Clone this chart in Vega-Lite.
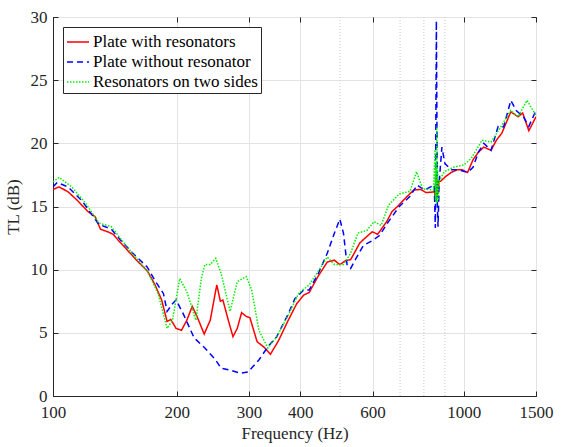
{
  "$schema": "https://vega.github.io/schema/vega-lite/v6.json",
  "width": 483,
  "height": 379,
  "autosize": "none",
  "padding": {"left": 53, "top": 17, "right": 26, "bottom": 51},
  "background": "white",
  "datasets": {
    "tl": [
      {"f":100,"TL":16.35,"s":"Plate with resonators"},{"f":103.5,"TL":16.55,"s":"Plate with resonators"},{"f":108.8,"TL":16.16,"s":"Plate with resonators"},{"f":114.5,"TL":15.5,"s":"Plate with resonators"},{"f":121.6,"TL":14.6,"s":"Plate with resonators"},{"f":126.6,"TL":14.2,"s":"Plate with resonators"},{"f":130.5,"TL":13.2,"s":"Plate with resonators"},{"f":135.9,"TL":13.0,"s":"Plate with resonators"},{"f":140.1,"TL":12.8,"s":"Plate with resonators"},{"f":144.4,"TL":12.3,"s":"Plate with resonators"},{"f":150.3,"TL":11.7,"s":"Plate with resonators"},{"f":159.7,"TL":10.75,"s":"Plate with resonators"},{"f":169.7,"TL":9.9,"s":"Plate with resonators"},{"f":176.6,"TL":8.9,"s":"Plate with resonators"},{"f":183.9,"TL":7.6,"s":"Plate with resonators"},{"f":189.6,"TL":5.9,"s":"Plate with resonators"},{"f":193.5,"TL":6.06,"s":"Plate with resonators"},{"f":199.4,"TL":5.35,"s":"Plate with resonators"},{"f":205.5,"TL":5.2,"s":"Plate with resonators"},{"f":211.8,"TL":6.0,"s":"Plate with resonators"},{"f":218.3,"TL":7.1,"s":"Plate with resonators"},{"f":224.2,"TL":6.3,"s":"Plate with resonators"},{"f":233.4,"TL":4.9,"s":"Plate with resonators"},{"f":241.5,"TL":6.0,"s":"Plate with resonators"},{"f":250.5,"TL":8.8,"s":"Plate with resonators"},{"f":255.6,"TL":7.5,"s":"Plate with resonators"},{"f":259.2,"TL":7.6,"s":"Plate with resonators"},{"f":267.2,"TL":6.0,"s":"Plate with resonators"},{"f":274.3,"TL":4.7,"s":"Plate with resonators"},{"f":281.0,"TL":5.35,"s":"Plate with resonators"},{"f":287.9,"TL":6.6,"s":"Plate with resonators"},{"f":295.5,"TL":6.3,"s":"Plate with resonators"},{"f":301.6,"TL":6.2,"s":"Plate with resonators"},{"f":314.0,"TL":4.3,"s":"Plate with resonators"},{"f":326.9,"TL":3.85,"s":"Plate with resonators"},{"f":338.3,"TL":3.3,"s":"Plate with resonators"},{"f":354.4,"TL":4.4,"s":"Plate with resonators"},{"f":372.7,"TL":5.9,"s":"Plate with resonators"},{"f":392.0,"TL":7.3,"s":"Plate with resonators"},{"f":408.2,"TL":8.0,"s":"Plate with resonators"},{"f":420.7,"TL":8.2,"s":"Plate with resonators"},{"f":442.5,"TL":9.5,"s":"Plate with resonators"},{"f":465.4,"TL":10.6,"s":"Plate with resonators"},{"f":484.5,"TL":10.75,"s":"Plate with resonators"},{"f":499.4,"TL":10.4,"s":"Plate with resonators"},{"f":514.8,"TL":10.7,"s":"Plate with resonators"},{"f":530.6,"TL":10.8,"s":"Plate with resonators"},{"f":541.4,"TL":11.3,"s":"Plate with resonators"},{"f":558.1,"TL":12.1,"s":"Plate with resonators"},{"f":575.2,"TL":12.5,"s":"Plate with resonators"},{"f":598.9,"TL":13.0,"s":"Plate with resonators"},{"f":617.3,"TL":12.8,"s":"Plate with resonators"},{"f":649.3,"TL":13.8,"s":"Plate with resonators"},{"f":669.2,"TL":14.6,"s":"Plate with resonators"},{"f":689.8,"TL":15.0,"s":"Plate with resonators"},{"f":718.2,"TL":15.6,"s":"Plate with resonators"},{"f":755.3,"TL":16.3,"s":"Plate with resonators"},{"f":786.4,"TL":16.35,"s":"Plate with resonators"},{"f":810.6,"TL":16.1,"s":"Plate with resonators"},{"f":850,"TL":16.16,"s":"Plate with resonators"},{"f":853,"TL":15.5,"s":"Plate with resonators"},{"f":855,"TL":17.3,"s":"Plate with resonators"},{"f":857,"TL":15.4,"s":"Plate with resonators"},{"f":859,"TL":17.6,"s":"Plate with resonators"},{"f":861,"TL":15.6,"s":"Plate with resonators"},{"f":863,"TL":17.2,"s":"Plate with resonators"},{"f":866,"TL":16.0,"s":"Plate with resonators"},{"f":870,"TL":17.0,"s":"Plate with resonators"},{"f":878.7,"TL":17.0,"s":"Plate with resonators"},{"f":905.7,"TL":17.4,"s":"Plate with resonators"},{"f":933.5,"TL":17.7,"s":"Plate with resonators"},{"f":962.2,"TL":17.9,"s":"Plate with resonators"},{"f":991.8,"TL":17.9,"s":"Plate with resonators"},{"f":1022.3,"TL":17.7,"s":"Plate with resonators"},{"f":1053.7,"TL":18.7,"s":"Plate with resonators"},{"f":1086.2,"TL":19.3,"s":"Plate with resonators"},{"f":1119.5,"TL":19.7,"s":"Plate with resonators"},{"f":1165.7,"TL":19.45,"s":"Plate with resonators"},{"f":1201.5,"TL":20.25,"s":"Plate with resonators"},{"f":1238.4,"TL":20.8,"s":"Plate with resonators"},{"f":1302.5,"TL":22.5,"s":"Plate with resonators"},{"f":1356.1,"TL":22.1,"s":"Plate with resonators"},{"f":1392.1,"TL":22.4,"s":"Plate with resonators"},{"f":1440.8,"TL":21.0,"s":"Plate with resonators"},{"f":1500,"TL":22.1,"s":"Plate with resonators"},

      {"f":100,"TL":16.55,"s":"Plate without resonator"},{"f":102.4,"TL":16.9,"s":"Plate without resonator"},{"f":108.8,"TL":16.55,"s":"Plate without resonator"},{"f":118.0,"TL":15.4,"s":"Plate without resonator"},{"f":129.2,"TL":13.6,"s":"Plate without resonator"},{"f":138.7,"TL":13.2,"s":"Plate without resonator"},{"f":147.3,"TL":12.2,"s":"Plate without resonator"},{"f":156.5,"TL":11.3,"s":"Plate without resonator"},{"f":169.7,"TL":10.2,"s":"Plate without resonator"},{"f":176.6,"TL":9.2,"s":"Plate without resonator"},{"f":185.8,"TL":8.1,"s":"Plate without resonator"},{"f":189.6,"TL":6.7,"s":"Plate without resonator"},{"f":195.4,"TL":7.3,"s":"Plate without resonator"},{"f":199.4,"TL":7.6,"s":"Plate without resonator"},{"f":207.6,"TL":6.5,"s":"Plate without resonator"},{"f":220.6,"TL":4.6,"s":"Plate without resonator"},{"f":234.3,"TL":3.8,"s":"Plate without resonator"},{"f":249.0,"TL":2.85,"s":"Plate without resonator"},{"f":256.6,"TL":2.2,"s":"Plate without resonator"},{"f":269.9,"TL":2.05,"s":"Plate without resonator"},{"f":286.7,"TL":1.8,"s":"Plate without resonator"},{"f":298.5,"TL":1.9,"s":"Plate without resonator"},{"f":317.2,"TL":2.85,"s":"Plate without resonator"},{"f":333.6,"TL":3.9,"s":"Plate without resonator"},{"f":350.8,"TL":4.7,"s":"Plate without resonator"},{"f":372.7,"TL":6.4,"s":"Plate without resonator"},{"f":388.1,"TL":7.7,"s":"Plate without resonator"},{"f":408.2,"TL":8.4,"s":"Plate without resonator"},{"f":420.7,"TL":8.4,"s":"Plate without resonator"},{"f":442.5,"TL":9.7,"s":"Plate without resonator"},{"f":465.4,"TL":11.3,"s":"Plate without resonator"},{"f":484.5,"TL":12.9,"s":"Plate without resonator"},{"f":499.4,"TL":14.0,"s":"Plate without resonator"},{"f":509.6,"TL":12.9,"s":"Plate without resonator"},{"f":520.0,"TL":10.4,"s":"Plate without resonator"},{"f":530.6,"TL":10.1,"s":"Plate without resonator"},{"f":546.9,"TL":10.9,"s":"Plate without resonator"},{"f":569.4,"TL":11.9,"s":"Plate without resonator"},{"f":598.9,"TL":12.3,"s":"Plate without resonator"},{"f":623.6,"TL":12.7,"s":"Plate without resonator"},{"f":655.9,"TL":13.8,"s":"Plate without resonator"},{"f":696.8,"TL":15.0,"s":"Plate without resonator"},{"f":740.2,"TL":15.8,"s":"Plate without resonator"},{"f":770.7,"TL":16.7,"s":"Plate without resonator"},{"f":802.5,"TL":16.3,"s":"Plate without resonator"},{"f":848,"TL":16.7,"s":"Plate without resonator"},{"f":853,"TL":13.3,"s":"Plate without resonator"},{"f":858,"TL":29.7,"s":"Plate without resonator"},{"f":863,"TL":15.0,"s":"Plate without resonator"},{"f":866,"TL":13.4,"s":"Plate without resonator"},{"f":872,"TL":17.0,"s":"Plate without resonator"},{"f":885,"TL":19.7,"s":"Plate without resonator"},{"f":900,"TL":18.4,"s":"Plate without resonator"},{"f":933.5,"TL":17.9,"s":"Plate without resonator"},{"f":972.0,"TL":17.9,"s":"Plate without resonator"},{"f":1022.3,"TL":17.7,"s":"Plate without resonator"},{"f":1053.7,"TL":18.1,"s":"Plate without resonator"},{"f":1086.2,"TL":19.3,"s":"Plate without resonator"},{"f":1119.5,"TL":20.0,"s":"Plate without resonator"},{"f":1165.7,"TL":19.45,"s":"Plate without resonator"},{"f":1213.6,"TL":21.35,"s":"Plate without resonator"},{"f":1250.9,"TL":21.3,"s":"Plate without resonator"},{"f":1302.5,"TL":23.4,"s":"Plate without resonator"},{"f":1342.4,"TL":22.6,"s":"Plate without resonator"},{"f":1397.8,"TL":22.1,"s":"Plate without resonator"},{"f":1440.8,"TL":21.35,"s":"Plate without resonator"},{"f":1500,"TL":22.6,"s":"Plate without resonator"},

      {"f":100,"TL":16.95,"s":"Resonators on two sides"},{"f":103.5,"TL":17.3,"s":"Resonators on two sides"},{"f":111.1,"TL":16.55,"s":"Resonators on two sides"},{"f":120.4,"TL":15.2,"s":"Resonators on two sides"},{"f":129.2,"TL":13.7,"s":"Resonators on two sides"},{"f":138.7,"TL":13.4,"s":"Resonators on two sides"},{"f":147.3,"TL":12.3,"s":"Resonators on two sides"},{"f":159.7,"TL":10.9,"s":"Resonators on two sides"},{"f":169.7,"TL":9.9,"s":"Resonators on two sides"},{"f":180.3,"TL":8.1,"s":"Resonators on two sides"},{"f":189.6,"TL":5.35,"s":"Resonators on two sides"},{"f":195.4,"TL":6.0,"s":"Resonators on two sides"},{"f":203.5,"TL":9.3,"s":"Resonators on two sides"},{"f":211.8,"TL":8.25,"s":"Resonators on two sides"},{"f":222.8,"TL":6.0,"s":"Resonators on two sides"},{"f":229.7,"TL":9.3,"s":"Resonators on two sides"},{"f":234.3,"TL":10.4,"s":"Resonators on two sides"},{"f":241.5,"TL":10.4,"s":"Resonators on two sides"},{"f":249.0,"TL":10.9,"s":"Resonators on two sides"},{"f":256.6,"TL":9.7,"s":"Resonators on two sides"},{"f":269.9,"TL":6.7,"s":"Resonators on two sides"},{"f":281.0,"TL":9.05,"s":"Resonators on two sides"},{"f":295.5,"TL":9.45,"s":"Resonators on two sides"},{"f":304.6,"TL":8.4,"s":"Resonators on two sides"},{"f":317.2,"TL":5.2,"s":"Resonators on two sides"},{"f":333.6,"TL":3.8,"s":"Resonators on two sides"},{"f":350.8,"TL":4.7,"s":"Resonators on two sides"},{"f":372.7,"TL":6.3,"s":"Resonators on two sides"},{"f":396.0,"TL":8.1,"s":"Resonators on two sides"},{"f":420.7,"TL":8.8,"s":"Resonators on two sides"},{"f":447.0,"TL":10.1,"s":"Resonators on two sides"},{"f":465.4,"TL":11.0,"s":"Resonators on two sides"},{"f":484.5,"TL":10.4,"s":"Resonators on two sides"},{"f":509.6,"TL":10.4,"s":"Resonators on two sides"},{"f":530.6,"TL":11.3,"s":"Resonators on two sides"},{"f":552.5,"TL":12.9,"s":"Resonators on two sides"},{"f":581.0,"TL":13.1,"s":"Resonators on two sides"},{"f":605.0,"TL":13.8,"s":"Resonators on two sides"},{"f":629.9,"TL":13.5,"s":"Resonators on two sides"},{"f":655.9,"TL":15.1,"s":"Resonators on two sides"},{"f":696.8,"TL":16.0,"s":"Resonators on two sides"},{"f":740.2,"TL":16.2,"s":"Resonators on two sides"},{"f":767.6,"TL":17.75,"s":"Resonators on two sides"},{"f":794.4,"TL":16.4,"s":"Resonators on two sides"},{"f":843.9,"TL":16.3,"s":"Resonators on two sides"},{"f":852,"TL":19.5,"s":"Resonators on two sides"},{"f":854,"TL":15.5,"s":"Resonators on two sides"},{"f":856,"TL":18.5,"s":"Resonators on two sides"},{"f":858,"TL":15.2,"s":"Resonators on two sides"},{"f":860,"TL":21.4,"s":"Resonators on two sides"},{"f":862,"TL":15.3,"s":"Resonators on two sides"},{"f":864,"TL":18.0,"s":"Resonators on two sides"},{"f":867,"TL":15.5,"s":"Resonators on two sides"},{"f":872,"TL":17.0,"s":"Resonators on two sides"},{"f":896.6,"TL":17.75,"s":"Resonators on two sides"},{"f":943.0,"TL":18.1,"s":"Resonators on two sides"},{"f":1001.9,"TL":18.3,"s":"Resonators on two sides"},{"f":1043.2,"TL":18.8,"s":"Resonators on two sides"},{"f":1108.3,"TL":20.25,"s":"Resonators on two sides"},{"f":1165.7,"TL":20.1,"s":"Resonators on two sides"},{"f":1225.9,"TL":21.2,"s":"Resonators on two sides"},{"f":1302.5,"TL":22.6,"s":"Resonators on two sides"},{"f":1356.1,"TL":22.1,"s":"Resonators on two sides"},{"f":1426.3,"TL":23.4,"s":"Resonators on two sides"},{"f":1500,"TL":22.2,"s":"Resonators on two sides"}
    ],
    "minor": [{"f":500},{"f":700},{"f":800},{"f":900}]
  },
  "layer": [
    {
      "data": {"name": "minor"},
      "mark": {"type": "rule", "color": "#c8c8c8", "strokeWidth": 1, "strokeDash": [1, 2]},
      "encoding": {
        "x": {"field": "f", "type": "quantitative", "axis": null}
      }
    },
    {
      "data": {"name": "tl"},
      "mark": {"type": "line", "strokeWidth": 1.5, "clip": true},
      "encoding": {
        "x": {
          "field": "f", "type": "quantitative",
          "scale": {"type": "log", "domain": [100, 1500], "nice": false},
          "axis": {"orient": "bottom", "title": "Frequency (Hz)", "values": [100, 200, 300, 400, 600, 1000, 1500], "format": "d", "grid": true, "labelFlush": false, "labelOverlap": false}
        },
        "y": {
          "field": "TL", "type": "quantitative",
          "scale": {"domain": [0, 30], "nice": false},
          "axis": {"orient": "left", "title": "TL (dB)", "values": [0, 5, 10, 15, 20, 25, 30], "grid": true, "labelFlush": false}
        },
        "color": {
          "field": "s", "type": "nominal",
          "scale": {"domain": ["Plate with resonators", "Plate without resonator", "Resonators on two sides"], "range": ["#ff0000", "#0000ff", "#00f000"]},
          "legend": {"title": null, "orient": "top-left", "offset": 10}
        },
        "strokeDash": {
          "field": "s", "type": "nominal",
          "scale": {"domain": ["Plate with resonators", "Plate without resonator", "Resonators on two sides"], "range": [[1, 0], [6, 4], [1.5, 1.5]]},
          "legend": {"title": null, "orient": "top-left", "offset": 10}
        }
      }
    },
    {
      "data": {"name": "tl"},
      "mark": {"type": "point", "opacity": 0},
      "encoding": {
        "x": {"field": "f", "type": "quantitative", "axis": {"orient": "top", "title": null, "labels": false, "grid": false, "domain": false, "values": [100, 200, 300, 400, 600, 1000, 1500]}},
        "y": {"field": "TL", "type": "quantitative", "axis": {"orient": "right", "title": null, "labels": false, "grid": false, "domain": false, "values": [0, 5, 10, 15, 20, 25, 30]}}
      }
    }
  ],
  "resolve": {"axis": {"x": "independent", "y": "independent"}},
  "config": {
    "font": "Liberation Serif, Times New Roman, serif",
    "view": {"stroke": "#262626", "strokeWidth": 1},
    "axis": {
      "domainColor": "#262626",
      "tickColor": "#262626",
      "tickSize": -5,
      "gridColor": "#e3e3e3",
      "gridWidth": 1,
      "labelFont": "Liberation Serif, Times New Roman, serif",
      "labelFontSize": 17,
      "labelColor": "#262626",
      "titleFont": "Liberation Serif, Times New Roman, serif",
      "titleFontSize": 17,
      "titleFontWeight": "normal",
      "titleColor": "#262626"
    },
    "axisBottom": {"labelPadding": 13, "titlePadding": 5},
    "axisLeft": {"labelPadding": 11, "titlePadding": 8},
    "legend": {
      "strokeColor": "#262626",
      "fillColor": "white",
      "padding": 3,
      "labelFont": "Liberation Serif, Times New Roman, serif",
      "labelFontSize": 17,
      "labelColor": "black",
      "symbolType": "stroke",
      "symbolSize": 484,
      "symbolStrokeWidth": 1.5,
      "rowPadding": 0,
      "labelOffset": 3,
      "labelLimit": 300,
      "cornerRadius": 0
    }
  }
}
